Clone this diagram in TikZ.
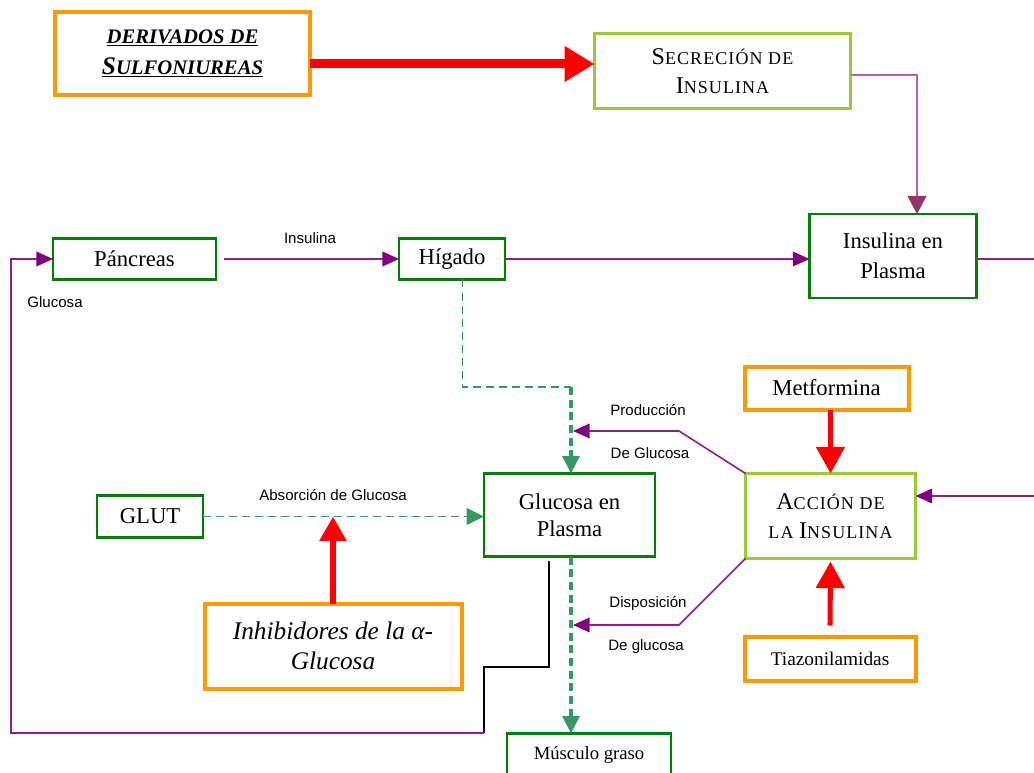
\documentclass[tikz,border=0pt]{standalone}
\usepackage{fontspec}
\setmainfont{Liberation Serif}
\setsansfont{Liberation Sans}
\newfontfamily\spacedserif[LetterSpace=6]{Liberation Serif}
\usetikzlibrary{arrows.meta}

\definecolor{orng}{HTML}{FF9900}
\definecolor{lgreen}{HTML}{99CC33}
\definecolor{dgreen}{HTML}{008000}
\definecolor{sgreen}{HTML}{339966}
\definecolor{purp}{HTML}{800080}
\definecolor{purpline}{HTML}{8E1E8E}
\definecolor{plum}{HTML}{993366}
\definecolor{plumline}{HTML}{B4649A}

% initial capital of a small-caps heading
\newcommand\capinit[1]{{\fontsize{18}{21}\selectfont #1}}

\tikzset{
  sz/.style 2 args={minimum width=#1*0.75pt, minimum height=#2*0.75pt},
  box/.style={draw, fill=white, inner sep=0pt, outer sep=0pt, align=center,
              font=\fontsize{17}{22.5}\selectfont},
  gbox/.style={box, draw=dgreen, line width=2.2pt},
  obox/.style={box, draw=orng, line width=3pt},
  lbox/.style={box, draw=lgreen, line width=1.7pt,
               font=\spacedserif\fontsize{13.5}{22}\selectfont},
  lbl/.style={inner sep=0pt, font=\sffamily\fontsize{11.3}{13}\selectfont},
  pline/.style={draw=purpline, line width=1.2pt},
  parrow/.style={pline, -{Triangle[length=12.5pt,width=11pt,color=purp]}},
  gdash/.style={draw=sgreen, line width=1.1pt, dash pattern=on 6pt off 3.8pt},
  gdashthick/.style={draw=sgreen, line width=2.6pt, dash pattern=on 6pt off 3.5pt},
  garrow/.style={-{Triangle[length=13pt,width=12.5pt,color=sgreen]}},
  rarrow/.style={draw=red, line width=3.8pt, -{Triangle[length=20pt,width=21pt]}},
  rarrowbig/.style={draw=red, line width=6.75pt, -{Triangle[length=22.5pt,width=25.5pt]}},
}

\begin{document}
\begin{tikzpicture}[x=0.75pt, y=-0.75pt]
\begin{scope}
\clip (0,0) rectangle (1034,773);

% boxes
\node[obox, sz={255}{83},
      font=\bfseries\itshape\fontsize{15.5}{23.5}\selectfont] (deriv) at (182.5,53.5)
  {\underline{DERIVADOS DE}\\\underline{{\fontsize{19}{23.5}\selectfont S}ULFONIUREAS}};
\node[lbox, sz={256}{75}] (secr) at (722.5,71)
  {\capinit{S}ECRECIÓN DE\\\capinit{I}NSULINA};
\node[gbox, sz={167}{84}] (insp) at (893,256) {Insulina en\\Plasma};
\node[gbox, sz={163}{41}] (panc) at (134.5,259) {Páncreas};
\node[gbox, sz={106}{41}] (hig) at (452,259) {Hígado};
\node[gbox, sz={171}{83}, font=\fontsize{17}{20.5}\selectfont] (gluc) at (569.5,515) {Glucosa en\\Plasma};
\node[lbox, sz={170}{85}] (acc) at (830.5,516)
  {\capinit{A}CCIÓN DE\\LA \capinit{I}NSULINA};
\node[obox, sz={164}{43}, font=\fontsize{17}{19}\selectfont] (metf) at (826.5,388) {Metformina};
\node[obox, sz={171}{44}, font=\fontsize{14.5}{16}\selectfont] (tiaz) at (830,658.5) {Tiazonilamidas};
\node[gbox, sz={106}{42}] (glut) at (150,516.5) {GLUT};
\node[obox, sz={257}{85}, font=\itshape\fontsize{19}{22.5}\selectfont] (inhib) at (333,646)
  {Inhibidores de la α-\\Glucosa};
\node[gbox, sz={164}{44}, font=\fontsize{14}{16}\selectfont] (musc) at (589,755.5) {Músculo graso};

% connector labels
\node[lbl] (linsul) at (310,238) {Insulina};
\node[lbl] (lglu) at (55,302) {Glucosa};
\node[lbl] (labs) at (333,495) {Absorción de Glucosa};
\node[lbl] (lprod1) at (648,410) {Producción};
\node[lbl] (lprod2) at (650,453) {De Glucosa};
\node[lbl] (ldisp1) at (648,604) {Disposición};
\node[lbl] (ldisp2) at (646,647) {De glucosa};

% bend points and free ends
\coordinate (rtop) at (1040,259);
\coordinate (rmid) at (1040,496);
\coordinate (hk) at (571,387);
\coordinate (p1) at (679,431);
\coordinate (d1) at (679,625);
\coordinate (b1) at (549,667);
\coordinate (b2) at (484,667);
\coordinate (b3) at (484,733);
\coordinate (b4) at (11,733);

% sulfonylureas stimulate secretion
\draw[rarrowbig] (deriv.east |- 0,64) -- (secr.west |- 0,64);
\draw[draw=plumline, line width=1.3pt, -{Triangle[length=13.5pt,width=14pt,color=plum]}]
  (secr.east |- 0,75) -| ([xshift=18pt]insp.north);

% insulin pathway
\draw[parrow] ([xshift=6pt]panc.east) -- (hig.west);
\draw[parrow] (hig.east) -- (hig.east -| insp.west);
\draw[pline] (insp.east |- hig.east) -- (rtop);
\draw[parrow] (rmid) -- (rmid -| acc.east);

% hepatic glucose output
\draw[gdash] ([xshift=7.9pt]hig.south) |- (hk);
\draw[gdashthick, garrow] (hk) -- (hk |- gluc.north);
\draw[gdashthick, garrow] (gluc.south -| hk) -- (musc.north -| hk);
\draw[gdash, garrow] (glut.east) -- (glut.east -| gluc.west);

% insulin action on production and disposal
\draw[parrow] (acc.north west) -- (p1) -- ([xshift=1.5pt]p1 -| hk);
\draw[parrow] (acc.south west) -- (d1) -- ([xshift=1.5pt]d1 -| hk);

% drugs
\draw[rarrow] (acc.north |- metf.south) -- (acc.north);
\draw[rarrow] ([yshift=8.25pt]tiaz.north) -- ([yshift=-2.25pt]acc.south);
\draw[draw=red, line width=5pt, -{Triangle[length=18.5pt,width=19.5pt]}]
  (inhib.north) -- (inhib.north |- glut.east);

% glucose feedback to the pancreas
\draw[black, line width=1.2pt] ([yshift=-3pt]gluc.south -| b1) -- (b1) -- (b2) -- (b3);
\draw[parrow] (b3) -- (b4) |- (panc.west);
\end{scope}
\pgfresetboundingbox
\useasboundingbox (0,0) rectangle (1034,773);
\end{tikzpicture}
\end{document}
